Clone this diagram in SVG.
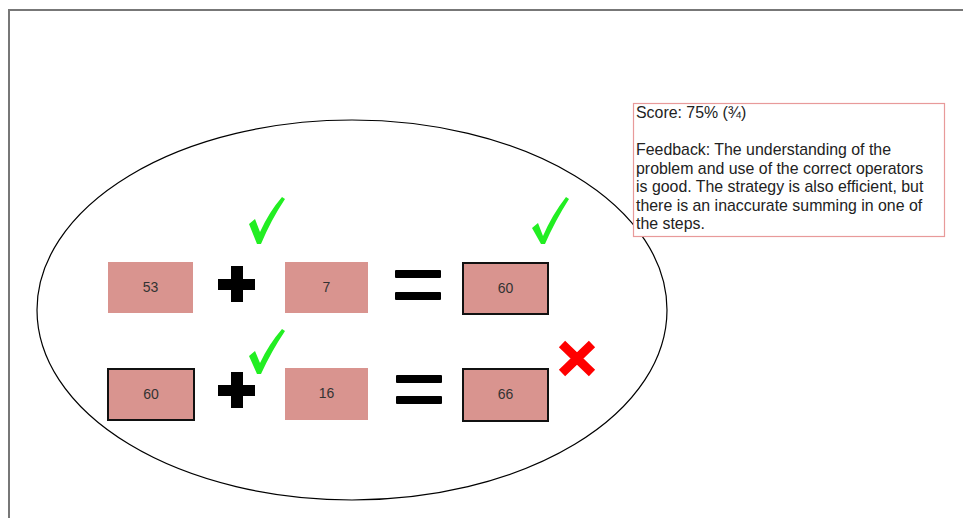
<svg xmlns="http://www.w3.org/2000/svg" width="963" height="518" viewBox="0 0 963 518">
<style>
.box{fill:#d9948f}
.bd{stroke:#111;stroke-width:2}
.num{font-family:"Liberation Sans",Arial,sans-serif;font-size:14px;fill:#333;text-anchor:middle}
.op{fill:#000}
.chk{fill:#22ee22}
.fb{font-family:"Liberation Sans",Arial,sans-serif;font-size:15.9px;fill:#222}
</style>
<rect width="963" height="518" fill="#fff"/>
<g id="frame" fill="none" stroke="#777" stroke-width="2">
<path d="M9,518 V10 H963"/>
</g>
<g id="ellipse"><ellipse cx="352" cy="310" rx="315" ry="190" fill="none" stroke="#000" stroke-width="1.2"/></g>
<g id="feedback">
<rect x="633.5" y="103.5" width="311" height="133" fill="#fff" stroke="#e89a9a" stroke-width="1.2"/>
<text class="fb" x="636" y="117.5">Score: 75% (¾)</text>
<text class="fb" x="636" y="155">Feedback: The understanding of the</text>
<text class="fb" x="636" y="173.5">problem and use of the correct operators</text>
<text class="fb" x="636" y="192">is good. The strategy is also efficient, but</text>
<text class="fb" x="636" y="210.5">there is an inaccurate summing in one of</text>
<text class="fb" x="636" y="229">the steps.</text>
</g>
<g id="box53"><rect class="box" x="108" y="262" width="85" height="51"/><text class="num" x="150.5" y="292">53</text></g>
<g id="plus1" class="op"><rect x="218" y="279" width="37" height="11"/><rect x="231" y="266" width="12" height="36"/></g>
<g id="box7"><rect class="box" x="285" y="262" width="83" height="51"/><text class="num" x="326.5" y="292">7</text></g>
<g id="eq1" class="op"><rect x="395" y="270" width="46" height="8" rx="1"/><rect x="395" y="292" width="46" height="8" rx="1"/></g>
<g id="box60a"><rect class="box bd" x="463" y="263" width="85" height="51"/><text class="num" x="505.5" y="293">60</text></g>
<g id="box60b"><rect class="box bd" x="108" y="369" width="86" height="51"/><text class="num" x="151" y="399">60</text></g>
<g id="plus2" class="op"><rect x="218" y="385" width="37" height="11"/><rect x="231" y="372" width="12" height="36"/></g>
<g id="box16"><rect class="box" x="285" y="368" width="83" height="52"/><text class="num" x="326.5" y="398">16</text></g>
<g id="eq2" class="op"><rect x="396" y="375" width="46" height="8" rx="1"/><rect x="396" y="396" width="46" height="8" rx="1"/></g>
<g id="box66"><rect class="box bd" x="463" y="369" width="85" height="52"/><text class="num" x="505.5" y="399">66</text></g>
<g id="check1"><path class="chk" d="M249,224 L255,219 L260,232 Q269,212 282,197 L285,199 Q271,220 261,244 L257,244 Z"/></g>
<g id="check2"><path class="chk" d="M532,228 L538,223 L543,236 Q552,215 566,197 L569,199 Q555,221 545,244 L541,244 Z"/></g>
<g id="check3"><path class="chk" d="M249,356 L255,351 L260,363 Q269,344 282,329 L285,331 Q271,352 261,374 L257,374 Z"/></g>
<g id="cross" stroke="#f00" stroke-width="9"><path d="M562,344 L592,373 M592,344 L562,373"/></g>
</svg>
